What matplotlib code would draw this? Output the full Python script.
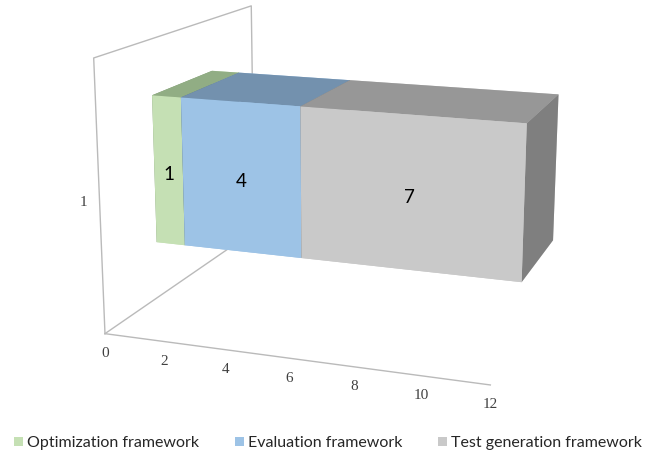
import matplotlib
matplotlib.use("Agg")
import numpy as np
import matplotlib.pyplot as plt
from matplotlib.patches import Patch
from matplotlib.transforms import offset_copy

# datos de la barra apilada (una sola categoría)
series = ["Optimization framework", "Evaluation framework", "Test generation framework"]
valores = [1, 4, 7]
categoria = "1"
ticks_valor = [0, 2, 4, 6, 8, 10, 12]

# colores por serie: frente, arriba, lado
col_frente = ["#c5e0b4", "#9dc3e6", "#c9c9c9"]
col_arriba = ["#91ad84", "#7391ae", "#979797"]
col_lado = ["#7e9a72", "#62809c", "#7f7f7f"]
gris_ejes = "#bababa"
texto = "#404040"

fig = plt.figure(figsize=(6.46, 4.58), dpi=100)
ax = fig.add_axes([0.041, 0.155, 1, 0.92], projection="3d", proj_type="persp",
                  focal_length=0.65, computed_zorder=False)
ax.set_xlim(0, 12)
ax.set_ylim(0, 1)
ax.set_zlim(0, 1)
ax.set_box_aspect((1, 0.967, 0.705), zoom=1.351)
ax.view_init(elev=14.26, azim=-70.88, roll=-0.18)
ax.set_axis_off()

# pared lateral y suelo (por debajo de la barra)
estilo_ejes = dict(color=gris_ejes, lw=1, zorder=0.5, clip_on=False)
ax.plot([0, 0, 0, 0], [0, 0, 1, 1], [0, 1, 1, 0], **estilo_ejes)
ax.plot([0, 0], [0, 1], [0, 0], **estilo_ejes)
ax.plot([0, 12], [0, 0], [0, 0], **estilo_ejes)

# barra apilada
y0, dy = 0.31, 0.39
z0, dz = 0.22, 0.57
izq = 0
centros = []
for i, v in enumerate(valores):
    # orden de caras en bar3d: -z, +z, -y, +y, -x, +x
    caras = [col_frente[i], col_arriba[i], col_frente[i], col_frente[i], col_lado[i], col_lado[i]]
    barra = ax.bar3d(izq, y0, z0, v, dy, dz, color=caras, shade=False, linewidth=0)
    barra.set_clip_on(False)
    centros.append((izq + v / 2, y0, z0 + dz / 2))
    izq += v

fig.canvas.draw()
M = ax.get_proj()


def proyectar(x, y, z):
    p = M @ np.array([x, y, z, 1.0])
    return p[0] / p[3], p[1] / p[3]


def etiqueta(punto, s, dx=0, dy=0, **kw):
    px, py = proyectar(*punto)
    tr = offset_copy(ax.transData, fig=fig, x=dx, y=dy, units="dots")
    ax.text2D(px, py, s, transform=tr, ha="center", va="center", clip_on=False, **kw)


for c, v in zip(centros, valores):
    etiqueta(c, str(v), dy=-4, fontsize=13.5, family="Lato", color="black")

for t in ticks_valor:
    etiqueta((t, 0, 0), str(t), dy=-20, fontsize=11, family="Liberation Serif", color=texto)
etiqueta((0, 0, 0.5), categoria, dx=-16, dy=-3, fontsize=11, family="Liberation Serif", color=texto)

handles = [Patch(facecolor=c, edgecolor="none") for c in col_frente]
fig.legend(handles, series, loc="center", ncol=3, frameon=False,
           bbox_to_anchor=(0.508, 0.033), handlelength=0.53, handleheight=0.53,
           handletextpad=0.27, columnspacing=2.25,
           prop={"family": "Lato", "size": 11.5}, labelcolor="#262626")

fig.savefig("out.png", dpi=100)
